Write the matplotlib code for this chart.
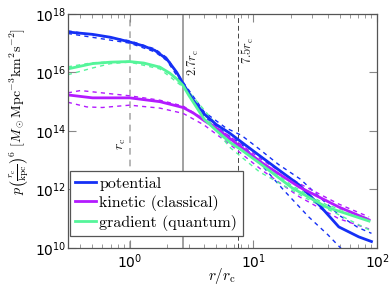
import numpy as np
import matplotlib
matplotlib.use("Agg")
import matplotlib.pyplot as plt
from matplotlib.ticker import LogLocator, NullLocator

plt.rcParams['mathtext.fontset'] = 'cm'
plt.rcParams['axes.formatter.use_mathtext'] = True

# ---- data (r/rc, log10 p) ----
pot_x = [0.316, 0.5, 0.7, 1.0, 1.3, 1.6, 2.0, 2.4, 2.7, 3.0, 3.3, 4.0, 5.0, 6.4, 8.0, 11.0, 16.0, 23.5, 34.0, 49.0, 71.0, 90.0]
pot_y = [17.38, 17.3, 17.2, 17.04, 16.9, 16.75, 16.45, 16.0, 15.62, 15.3, 15.02, 14.58, 14.22, 13.93, 13.62, 13.18, 12.67, 12.15, 11.47, 10.72, 10.38, 10.22]
pot_hi_x = [0.316, 1.0, 1.6, 2.0, 2.7, 4.0, 6.0, 8.0, 11.0, 16.0, 24.0, 35.0, 50.0, 70.0, 90.0]
pot_hi_y = [17.42, 17.08, 16.8, 16.5, 15.67, 14.65, 14.1, 13.85, 13.4, 12.85, 12.35, 11.7, 11.1, 10.7, 10.5]
pot_lo_x = [0.316, 1.0, 1.6, 2.0, 2.7, 4.0, 6.0, 8.0, 11.0, 17.8, 28.0, 40.0, 52.0]
pot_lo_y = [17.33, 17.0, 16.7, 16.4, 15.57, 14.5, 13.9, 13.55, 12.95, 11.95, 11.06, 10.45, 9.95]

kin_x = [0.316, 0.5, 1.0, 1.75, 2.7, 3.3, 4.0, 5.0, 6.4, 11.8, 23.5, 49.0, 86.0]
kin_y = [15.23, 15.13, 15.13, 15.0, 14.8, 14.6, 14.35, 14.1, 13.75, 12.9, 12.08, 11.4, 10.96]
kin_hi_x = [0.316, 0.4, 0.6, 1.0, 1.75, 2.7, 4.0, 6.4, 11.8, 23.5, 49.0, 86.0]
kin_hi_y = [15.3, 15.38, 15.3, 15.2, 15.05, 14.85, 14.4, 13.82, 13.0, 12.2, 11.5, 11.06]
kin_lo_x = [0.316, 0.45, 0.6, 1.0, 1.75, 2.7, 4.0, 6.4, 11.8, 23.5, 49.0, 86.0]
kin_lo_y = [14.98, 14.82, 14.8, 14.88, 14.78, 14.6, 14.2, 13.55, 12.65, 11.75, 11.0, 10.65]

grad_x = [0.316, 0.5, 0.7, 1.0, 1.3, 1.75, 2.1, 2.4, 2.7, 3.0, 3.3, 4.0, 5.0, 6.4, 8.0, 11.2, 20.6, 38.8, 86.0]
grad_y = [16.12, 16.3, 16.35, 16.37, 16.32, 16.18, 15.98, 15.78, 15.55, 15.22, 14.95, 14.4, 14.02, 13.62, 13.35, 12.9, 12.05, 11.4, 10.92]
grad_hi_x = [0.316, 0.5, 1.0, 1.75, 2.7, 6.4, 11.2, 20.6, 38.8, 86.0]
grad_hi_y = [16.19, 16.33, 16.38, 16.2, 15.58, 13.68, 12.98, 12.12, 11.48, 11.0]
grad_lo_x = [0.316, 0.5, 0.7, 1.0, 1.75, 2.7, 6.4, 11.2, 28.3, 86.0]
grad_lo_y = [15.92, 16.15, 16.3, 16.35, 16.12, 15.5, 13.45, 12.6, 11.64, 10.62]

ref_x = [1.0, 2.7, 7.5]
ref_labels = [r'$r_\mathrm{c}$', r'$2.7r_\mathrm{c}$', r'$7.5r_\mathrm{c}$']

labels = ['potential', 'kinetic (classical)', 'gradient (quantum)']
c_pot, c_kin, c_grad = '#1530f5', '#b31aff', '#55f59a'

fig = plt.figure(figsize=(3.9, 2.89), dpi=100)
ax = fig.add_axes([0.174, 0.142, 0.793, 0.810])

ax.axvline(ref_x[0], color='#aaaaaa', lw=1.2, ls=(0, (4, 3)), zorder=1)
ax.axvline(ref_x[1], color='#888888', lw=1.1, zorder=1)
ax.axvline(ref_x[2], color='#444444', lw=0.7, ls=(0, (5, 3)), zorder=1)

def p(v):
    return 10.0 ** np.asarray(v)

for xs, ys in [(pot_hi_x, pot_hi_y), (pot_lo_x, pot_lo_y)]:
    ax.plot(xs, p(ys), color=c_pot, lw=1.0, ls=(0, (3, 3)))
for xs, ys in [(kin_hi_x, kin_hi_y), (kin_lo_x, kin_lo_y)]:
    ax.plot(xs, p(ys), color=c_kin, lw=1.0, ls=(0, (3, 3)))
for xs, ys in [(grad_hi_x, grad_hi_y), (grad_lo_x, grad_lo_y)]:
    ax.plot(xs, p(ys), color=c_grad, lw=1.0, ls=(0, (3, 3)))

ax.plot(pot_x, p(pot_y), color=c_pot, lw=2.0, label=labels[0])
ax.plot(kin_x, p(kin_y), color=c_kin, lw=2.0, label=labels[1])
ax.plot(grad_x, p(grad_y), color=c_grad, lw=2.0, label=labels[2])

ax.set_xscale('log')
ax.set_yscale('log')
ax.set_xlim(10 ** -0.5, 100)
ax.set_ylim(1e10, 1e18)

ax.yaxis.set_major_locator(LogLocator(base=100.0))
ax.yaxis.set_minor_locator(NullLocator())
ax.tick_params(which='both', direction='in', top=True, right=True, labelsize=10)
ax.tick_params(axis='y', pad=1)
ax.tick_params(which='major', length=6, color='#888888')
ax.tick_params(which='minor', length=3, color='#888888')
for s in ax.spines.values():
    s.set_color('#555555')
    s.set_linewidth(0.9)

ax.text(0.97, 10 ** 13.55, ref_labels[0], rotation=90, ha='right', va='center', fontsize=10, color='#222222')
ax.text(2.83, 10 ** 16.8, ref_labels[1], rotation=90, ha='left', va='top', fontsize=9, color='#222222')
ax.text(7.8, 10 ** 17.2, ref_labels[2], rotation=90, ha='left', va='top', fontsize=9, color='#222222')

fig.text(222 / 390, 1 - 276 / 289, r'$r/r_\mathrm{c}$', fontsize=11, ha='center', va='center')
fig.text(19 / 390, 1 - 112 / 289,
         r'$p\left(\frac{r_\mathrm{c}}{\mathrm{kpc}}\right)^6\ [M_\odot\mathrm{Mpc}^{-3}\mathrm{km}^2\mathrm{s}^{-2}]$',
         fontsize=10, rotation=90, ha='center', va='center')

leg = ax.legend(loc='lower left', bbox_to_anchor=(0.006, 0.05), borderaxespad=0,
                handlelength=1.3, handletextpad=0.2,
                fancybox=False, framealpha=1, edgecolor='#555555', borderpad=0.35,
                labelspacing=0.25, prop={'family': 'cmr10', 'size': 11.5})
leg.get_frame().set_linewidth(0.9)

fig.savefig('out.png', dpi=100)
